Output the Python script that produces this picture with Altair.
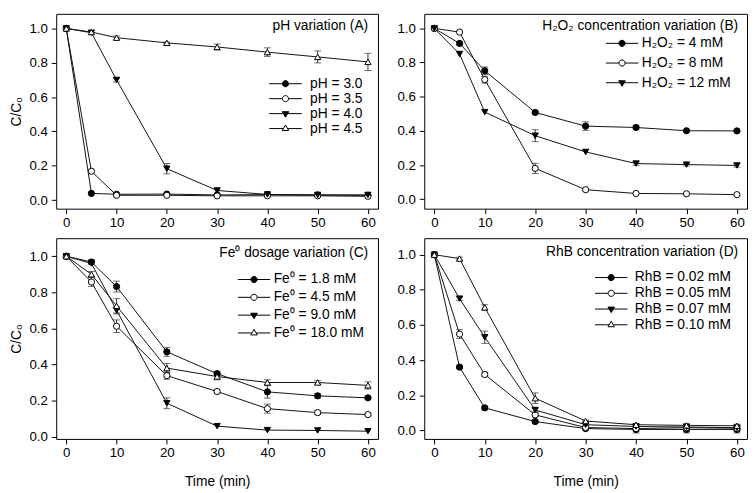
import altair as alt
import pandas as pd

FONT = "Liberation Sans, Arial, sans-serif"

TIME = [0, 5, 10, 20, 30, 40, 50, 60]
X_TICKS = [0, 10, 20, 30, 40, 50, 60]
Y_TICKS = [0.0, 0.2, 0.4, 0.6, 0.8, 1.0]

# ---- Panel A: pH variation ----
A_TITLE = "pH variation (A)"
A_SERIES = ["pH = 3.0", "pH = 3.5", "pH = 4.0", "pH = 4.5"]
A_VALUES = [
    [1.0, 0.039, 0.034, 0.035, 0.030, 0.032, 0.030, 0.028],
    [1.0, 0.168, 0.028, 0.028, 0.025, 0.025, 0.025, 0.022],
    [1.0, 0.975, 0.700, 0.183, 0.056, 0.033, 0.030, 0.030],
    [1.0, 0.979, 0.946, 0.916, 0.892, 0.862, 0.834, 0.805],
]
A_ERRORS = [
    [0, 0, 0, 0, 0, 0, 0, 0],
    [0, 0, 0, 0, 0, 0, 0, 0],
    [0, 0, 0.012, 0.03, 0, 0, 0, 0],
    [0, 0, 0.01, 0.005, 0.017, 0.025, 0.035, 0.05],
]

# ---- Panel B: H2O2 concentration ----
B_TITLE = "H\u2082O\u2082 concentration variation (B)"
B_SERIES = ["H\u2082O\u2082 = 4 mM", "H\u2082O\u2082 = 8 mM", "H\u2082O\u2082 = 12 mM"]
B_VALUES = [
    [1.0, 0.912, 0.752, 0.508, 0.428, 0.420, 0.401, 0.400],
    [1.0, 0.978, 0.700, 0.181, 0.056, 0.034, 0.032, 0.027],
    [1.0, 0.850, 0.510, 0.372, 0.277, 0.209, 0.203, 0.198],
]
B_ERRORS = [
    [0, 0.01, 0.022, 0.01, 0.025, 0.008, 0.005, 0.005],
    [0, 0, 0.02, 0.03, 0, 0, 0, 0],
    [0, 0, 0, 0.035, 0, 0.01, 0.008, 0.01],
]

# ---- Panel C: Fe0 dosage ----
C_TITLE = "Fe\u2070 dosage variation (C)"
C_SERIES = ["Fe\u2070 = 1.8 mM", "Fe\u2070 = 4.5 mM", "Fe\u2070 = 9.0 mM", "Fe\u2070 = 18.0 mM"]
C_VALUES = [
    [1.0, 0.968, 0.832, 0.470, 0.349, 0.248, 0.226, 0.215],
    [1.0, 0.857, 0.612, 0.338, 0.250, 0.155, 0.133, 0.122],
    [1.0, 0.960, 0.700, 0.185, 0.058, 0.036, 0.034, 0.030],
    [1.0, 0.900, 0.725, 0.380, 0.333, 0.300, 0.300, 0.284],
]
C_ERRORS = [
    [0, 0.012, 0.03, 0.025, 0.012, 0.035, 0.012, 0.005],
    [0, 0.025, 0.035, 0.02, 0.008, 0.025, 0.01, 0.005],
    [0, 0, 0.02, 0.03, 0, 0, 0, 0],
    [0, 0.015, 0.04, 0.025, 0.018, 0.015, 0.01, 0.02],
]

# ---- Panel D: RhB concentration ----
D_TITLE = "RhB concentration variation (D)"
D_SERIES = ["RhB = 0.02 mM", "RhB = 0.05 mM", "RhB = 0.07 mM", "RhB = 0.10 mM"]
D_VALUES = [
    [1.0, 0.360, 0.128, 0.050, 0.010, 0.005, 0.005, 0.005],
    [1.0, 0.548, 0.318, 0.088, 0.016, 0.010, 0.015, 0.012],
    [1.0, 0.750, 0.530, 0.116, 0.032, 0.022, 0.019, 0.015],
    [1.0, 0.978, 0.700, 0.183, 0.053, 0.032, 0.028, 0.026],
]
D_ERRORS = [
    [0, 0.01, 0.01, 0.008, 0.008, 0.02, 0.02, 0.02],
    [0, 0.025, 0.01, 0.01, 0.005, 0.015, 0.02, 0.01],
    [0, 0.01, 0.035, 0.01, 0.005, 0.01, 0.01, 0.02],
    [0, 0.008, 0.015, 0.03, 0.005, 0.005, 0.01, 0.005],
]

SHAPES = ["circle", "circle", "triangle-down", "triangle-up"]
FILLS = ["black", "white", "black", "white"]

# legend symbols: a line with the marker in its middle (normalised to [-1, 1])
r = 0.19
CIRC = f"A{r},{r} 0 1,1 -{r},0A{r},{r} 0 1,1 {r},0Z"
LEG_PATHS = [
    f"M-1,0H1M{r},0{CIRC}",
    f"M-1,0H-{r}M{r},0H1M{r},0{CIRC}",
    "M-1,0H1M-0.2,-0.12L0.2,-0.12L0,0.22Z",
    "M-1,0H-0.13M0.13,0H1M0,-0.22L0.2,0.12L-0.2,0.12Z",
]


def panel(title, series, values, errors, ydom, width, height,
          lx, ly, loff, rpad, tdx, tdy, xtitle, ytitle):
    rows = []
    for i, (name, vals, errs) in enumerate(zip(series, values, errors)):
        for t, v, e in zip(TIME, vals, errs):
            rows.append({"series": name, "t": t, "v": v, "e": e,
                         "lo": v - e, "hi": v + e,
                         "shp": SHAPES[i], "fc": FILLS[i]})
    df = pd.DataFrame(rows)
    n = len(series)

    xs = alt.Scale(domain=[-2.0, 62.0], nice=False, zero=False)
    ys = alt.Scale(domain=ydom, nice=False, zero=False)
    xax = alt.Axis(values=X_TICKS, title=xtitle)
    yax = alt.Axis(values=Y_TICKS, format=".1f", title=ytitle)

    def X(f):
        return alt.X(f, scale=xs, axis=xax)

    def Y(f):
        return alt.Y(f, scale=ys, axis=yax)

    fill_expr = "[" + ",".join(f"'{c}'" for c in FILLS[:n]) + "][datum.index]"
    legend = alt.Legend(
        title=None, orient="none", legendX=lx, legendY=ly,
        symbolFillColor=alt.ExprRef(expr=fill_expr),
        symbolSize=1089, symbolStrokeWidth=1, symbolStrokeColor="black",
        symbolOffset=0, labelOffset=loff, rowPadding=rpad, padding=0,
        clipHeight=14,
        labelFont=FONT, labelFontSize=14, labelColor="black",
    )

    base = alt.Chart(df)
    lines = base.mark_line(strokeWidth=1, color="#111").encode(
        x=X("t:Q"), y=Y("v:Q"), detail="series:N")
    err = base.transform_filter("datum.e > 0")
    rules = err.mark_rule(color="#333", strokeWidth=1).encode(
        x=X("t:Q"), y=Y("lo:Q"), y2="hi:Q")
    caps = err.transform_fold(["lo", "hi"], as_=["k", "cv"]).mark_tick(
        orient="horizontal", size=7, thickness=1, color="#333").encode(
        x=X("t:Q"), y=Y("cv:Q"))

    points = base.mark_point(filled=True, size=40, stroke="black",
                             strokeWidth=1, opacity=1).encode(
        x=X("t:Q"), y=Y("v:Q"),
        shape=alt.Shape("shp:N", scale=None),
        fill=alt.Fill("fc:N", scale=None),
    )
    # invisible layer that only carries the legend (line + marker symbols)
    leg = base.transform_filter("datum.t == 0").mark_point(
        filled=True, size=0, opacity=1).encode(
        x=X("t:Q"), y=Y("v:Q"),
        shape=alt.Shape("series:N",
                        scale=alt.Scale(domain=series, range=LEG_PATHS[:n]),
                        legend=legend),
        fill=alt.Fill("fc:N", scale=None),
    )
    ttl = alt.Chart(pd.DataFrame({"label": [title]})).mark_text(
        align="right", baseline="middle", font=FONT, fontSize=14, color="black"
    ).encode(x=alt.value(width - tdx), y=alt.value(tdy), text="label:N")

    return alt.layer(lines, rules, caps, leg, points, ttl).properties(
        width=width, height=height)


YT = "C/C\u2080"
pa = panel(A_TITLE, A_SERIES, A_VALUES, A_ERRORS, [-0.05, 1.085], 327, 198,
           216, 64, 8, 1.2, 10, 12, None, YT)
pb = panel(B_TITLE, B_SERIES, B_VALUES, B_ERRORS, [-0.055, 1.085], 328, 198,
           184, 23, 3, 6.0, 9, 12, None, None)
pc = panel(C_TITLE, C_SERIES, C_VALUES, C_ERRORS, [-0.013, 1.10], 327, 204,
           184, 35, 3, 4.1, 10, 15, "Time (min)", YT)
pd_ = panel(D_TITLE, D_SERIES, D_VALUES, D_ERRORS, [-0.049, 1.094], 328, 204,
            173, 33, 7, 2.0, 9, 14, "Time (min)", None)

chart = alt.vconcat(
    alt.hconcat(pa, pb, spacing=17).resolve_scale(shape="independent").resolve_legend(shape="independent"),
    alt.hconcat(pc, pd_, spacing=17).resolve_scale(shape="independent").resolve_legend(shape="independent"),
    spacing=8,
).resolve_scale(
    shape="independent"
).resolve_legend(
    shape="independent"
).properties(
    padding={"left": 0, "top": 1, "right": 0, "bottom": 0}
).configure_view(
    stroke="black", strokeWidth=1
).configure_axis(
    grid=False, domain=False, tickColor="black", tickSize=5, tickWidth=1,
    labelFont=FONT, labelFontSize=13.5, labelColor="black",
    titleFont=FONT, titleFontSize=14, titleFontWeight="normal", titleColor="black",
).configure_axisX(
    labelPadding=2, titlePadding=16
).configure_axisY(
    labelPadding=4, titlePadding=6
)

chart.save("out.html", embed_options={"renderer": "svg", "actions": False})
